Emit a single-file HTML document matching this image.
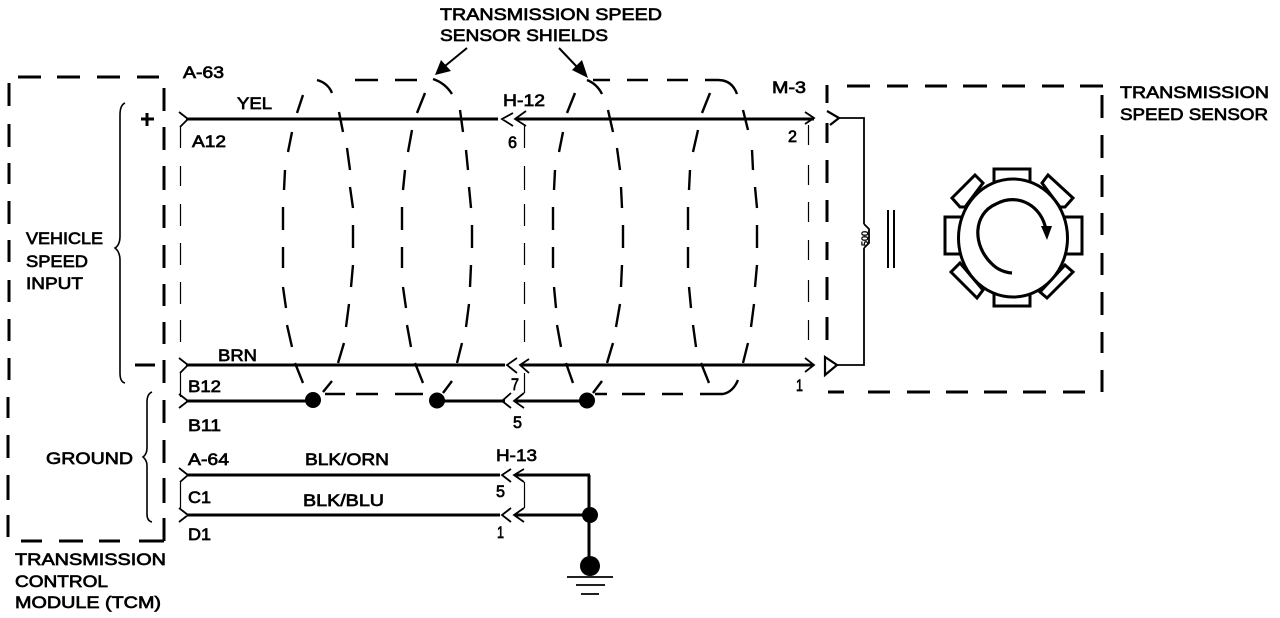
<!DOCTYPE html>
<html><head><meta charset="utf-8"><style>
html,body{margin:0;padding:0;background:#fff}
svg{display:block}
text{font-family:"Liberation Sans",sans-serif;font-size:17px;fill:#000;stroke:#000;stroke-width:.7px}
</style></head><body>
<svg width="1280" height="618" viewBox="0 0 1280 618" xmlns="http://www.w3.org/2000/svg">
<g fill="none" stroke="#000">
<!-- TCM box -->
<path stroke-width="3" d="M18 77H41M57 77H80M97 77H120M137 77H159M9 83V106M9 124V147M9 163V184M9 201V224M9 240V262M9 280V302M9 319V341M9 358V380M8 397V418M8 435V458M8 475V500M8 515V537M21 541H42M59 541H83M99 541H120M139 541H164M164 88V111M164 127V150M164 166V190M164 205V228M164 245V268M164 284V306M164 322V344M164 360V383M164 400V423M164 440V463M164 478V503M164 518V541"/>
<!-- Sensor box -->
<path stroke-width="3" d="M847 86H870M887 86H908M925 86H947M963 86H987M1002 86H1025M1042 86H1064M1080 86H1103M1102 95V118M1102 135V158M1102 175V197M1102 213V235M1102 253V275M1102 292V315M1102 332V353M1102 370V392M828 392H844M868 392H890M907 392H930M946 392H968M984 392H1007M1023 392H1046M1063 392H1085M827 85V103M827 123V143M827 160V183M827 200V222M827 242V260M827 277V300M827 317V340"/>
<!-- Thin connector dashes -->
<path stroke-width="1.2" d="M180.5 127V148M180.5 166V186M180.5 204V226M180.5 243V265M180.5 282V304M180.5 320V342M180.5 372V397M180.5 482V508M524.5 125V148M524.5 166V190M524.5 204V226M524.5 243V265M524.5 282V304M524.5 320V342M524.5 373V393M524.5 482V508M808.5 125V145M808.5 165V185M808.5 202V222M808.5 240V260M808.5 280V302M808.5 320V340"/>
<!-- Wires -->
<path stroke-width="3" d="M186 119H498M516 119H814M186 365H505M521 365H813M186 401H313M437 401H505M515 401H587M187 475H500M515 475H590M187 515H500M515 515H590M589 475V566"/>
<path stroke-width="1.8" d="M839 118H864V224M864 248V365H835M864 224L869 229V243L864 248"/>
<path stroke-width="2" d="M888 210V268M894 210V268"/>
<!-- Chevrons -->
<path stroke-width="1.8" d="M179 112L188 119L180 127M179 358L188 365L180 373M179 394L188 401L179 408M179 468L188 475L180 482M179 508L188 515L179 522M513 113L502 119L513 126M526 111L515 119L526 126M517 358L507 365L517 373M529 359L520 365L529 373M511 393L502 401L511 408M524 393L514 401L524 408M511 469L502 475L511 482M524 469L514 475L524 482M511 508L502 515L511 522M524 508L514 515L524 522M805 112L814 118L805 124M805 358L814 365L805 372"/>
<path stroke-width="2.2" d="M827 111L839 118L830 125M825 357L837 365L825 375Z"/>
<!-- Shields -->
<path stroke-width="2.4" d="M303 95L297 113M292 132L288 152M285 170L284 190M283 207V230M283 247V268M283 287L286 308M287 325L292 347M295 363L303 383
M317 80Q328 83 332 93M339 112L343 132M347 148L350 170M350 187L353 208M353 225V248M353 265L351 287M349 304L346 327M344 343L338 363M332 381L323 392
M325 394H345M355 80H378M395 80H417M356 394H378M395 394H423
M425 93L417 113M412 130L408 152M405 170L403 190M402 207V230M402 247V268M403 287L406 308M407 325L411 347M415 363L423 383
M433 79Q445 83 452 94M460 110L463 132M466 150L468 170M469 187L471 208M472 225V248M471 265L470 287M469 304L466 327M462 343L457 363M452 381L443 393
M575 93L567 113M563 132L559 152M555 170L554 190M553 207V230M553 247V268M554 287L556 308M557 325L561 347M566 363L573 383
M587 80Q597 84 602 94M608 110L613 132M617 148L620 170M621 187L622 208M623 225V248M622 265L621 287M620 304L616 327M613 343L607 363M602 381L593 393
M593 80H610M627 80H648M667 80H688M705 80H718Q732 80 737 94M595 394H607M622 394H645M662 394H683M700 394H723Q733 392 738 380
M710 93L702 113M698 130L693 152M690 170L689 190M688 207V230M688 247V268M689 287L691 308M693 325L696 347M701 363L709 383
M743 110L748 130M752 150L753 170M755 187L757 208M757 225V248M757 265L755 287M754 304L751 327M748 343L743 363"/>
<!-- Leaders -->
<path stroke-width="2" d="M467 48L445 66M559 48L578 68"/>
<!-- Braces -->
<path stroke-width="1.6" d="M125 103Q120 105 120 115V236Q120 245 115 248Q120 252 120 260V373Q120 382 125 383M152 392Q147 394 147 402V448Q147 454 143 457Q147 460 147 466V514Q147 521 152 522"/>
<!-- Ground bars -->
<path stroke-width="1.8" d="M567 577H613M576 585H605M581 594H599"/>
<path stroke-width="3" d="M135 365H155M147 113V126M141 119H154"/>
<!-- Sensor -->
<g stroke-width="3" fill="#fff">
<rect x="994" y="169" width="36" height="14"/><rect x="994" y="293" width="36" height="13"/>
<rect x="945" y="217" width="18" height="37"/><rect x="1064" y="217" width="18" height="37"/>
<polygon points="975,175 983,183 965,207 960,207 952,198"/>
<polygon points="1048,175 1073,198 1065,207 1060,207 1042,183"/>
<polygon points="960,263 983,290 977,298 951,272"/>
<polygon points="1065,265 1073,272 1047,298 1040,292"/>
<ellipse cx="1013" cy="238" rx="54.5" ry="59"/>
</g>
<path stroke-width="3.2" d="M1012 273Q1000 272 992 264C972 245 973 214 996 204C1018 192 1042 206 1046 230"/>
</g>
<g fill="#000">
<circle cx="313" cy="400" r="8"/><circle cx="437" cy="400.5" r="8"/><circle cx="587" cy="400.5" r="8"/>
<circle cx="590" cy="515" r="8"/><circle cx="590" cy="566" r="10"/>
<path d="M435 75L441 60L451 71ZM588 78L572 70L582 60ZM1041 226H1052L1047 240Z"/>
</g>
<g>
<text x="440" y="20" textLength="222" lengthAdjust="spacingAndGlyphs">TRANSMISSION SPEED</text>
<text x="440" y="41" textLength="168" lengthAdjust="spacingAndGlyphs">SENSOR SHIELDS</text>
<text x="183" y="78" textLength="41" lengthAdjust="spacingAndGlyphs">A-63</text>
<text x="237" y="109" textLength="35" lengthAdjust="spacingAndGlyphs">YEL</text>
<text x="192" y="147" textLength="34" lengthAdjust="spacingAndGlyphs">A12</text>
<text x="26" y="244" textLength="77" lengthAdjust="spacingAndGlyphs">VEHICLE</text>
<text x="26" y="267" textLength="62" lengthAdjust="spacingAndGlyphs">SPEED</text>
<text x="26" y="289" textLength="57" lengthAdjust="spacingAndGlyphs">INPUT</text>
<text x="218" y="361" textLength="39" lengthAdjust="spacingAndGlyphs">BRN</text>
<text x="188" y="392" textLength="33" lengthAdjust="spacingAndGlyphs">B12</text>
<text x="188" y="431" textLength="33" lengthAdjust="spacingAndGlyphs">B11</text>
<text x="46" y="464" textLength="87" lengthAdjust="spacingAndGlyphs">GROUND</text>
<text x="188" y="465" textLength="41" lengthAdjust="spacingAndGlyphs">A-64</text>
<text x="305" y="465" textLength="84" lengthAdjust="spacingAndGlyphs">BLK/ORN</text>
<text x="303" y="506" textLength="81" lengthAdjust="spacingAndGlyphs">BLK/BLU</text>
<text x="188" y="503" textLength="23" lengthAdjust="spacingAndGlyphs">C1</text>
<text x="188" y="540" textLength="23" lengthAdjust="spacingAndGlyphs">D1</text>
<text x="15" y="565" textLength="151" lengthAdjust="spacingAndGlyphs">TRANSMISSION</text>
<text x="15" y="587" textLength="93" lengthAdjust="spacingAndGlyphs">CONTROL</text>
<text x="15" y="608" textLength="146" lengthAdjust="spacingAndGlyphs">MODULE (TCM)</text>
<text x="496" y="461" textLength="41" lengthAdjust="spacingAndGlyphs">H-13</text>
<text x="496" y="497" textLength="9" lengthAdjust="spacingAndGlyphs">5</text>
<text x="497" y="538" textLength="7" lengthAdjust="spacingAndGlyphs">1</text>
<text x="513" y="428" textLength="9" lengthAdjust="spacingAndGlyphs">5</text>
<text x="511" y="390" textLength="8" lengthAdjust="spacingAndGlyphs">7</text>
<text x="503" y="106" textLength="42" lengthAdjust="spacingAndGlyphs">H-12</text>
<text x="508" y="148" textLength="9" lengthAdjust="spacingAndGlyphs">6</text>
<text x="772" y="93" textLength="34" lengthAdjust="spacingAndGlyphs">M-3</text>
<text x="788" y="142" textLength="9" lengthAdjust="spacingAndGlyphs">2</text>
<text x="796" y="391" textLength="7" lengthAdjust="spacingAndGlyphs">1</text>
<text x="1120" y="98" textLength="149" lengthAdjust="spacingAndGlyphs">TRANSMISSION</text>
<text x="1120" y="120" textLength="148" lengthAdjust="spacingAndGlyphs">SPEED SENSOR</text>
<text transform="translate(868,246) rotate(-90)" style="font-size:9px;stroke-width:.5px">500</text>
</g>
</svg>
</body></html>
